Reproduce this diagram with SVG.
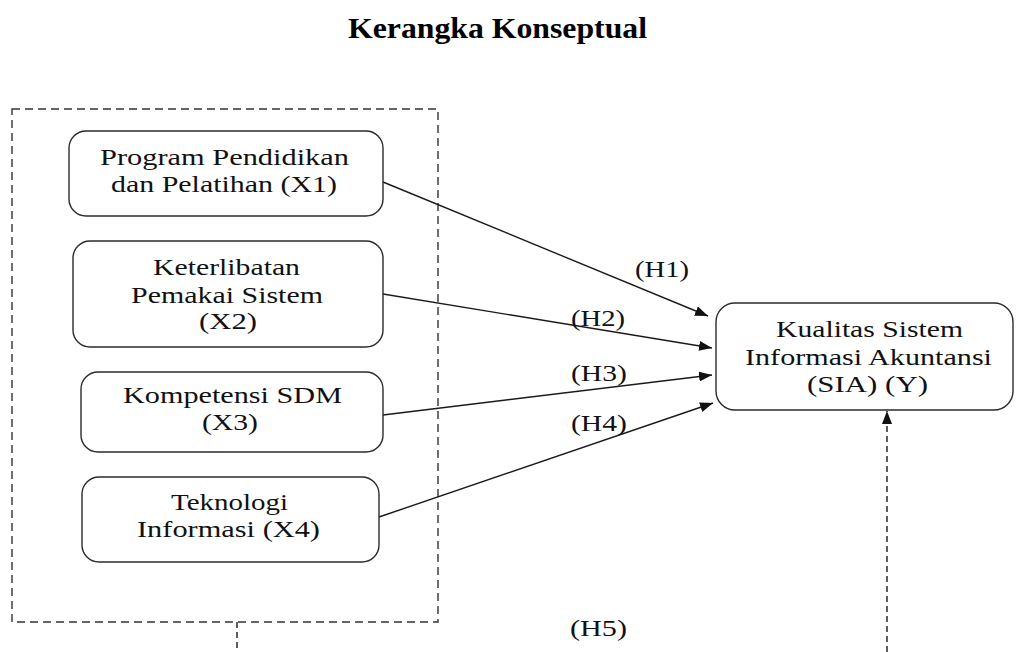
<svg xmlns="http://www.w3.org/2000/svg" width="1017" height="652" viewBox="0 0 1017 652">
<style>
  .bg { fill: #ffffff; }
  .node rect { fill: #ffffff; stroke: #2b2b2b; stroke-width: 1.4; }
  .t { font-family: "Liberation Serif", "Times New Roman", serif; font-size: 23px; fill: #111111; }
  .title { font-family: "Liberation Serif", "Times New Roman", serif; font-size: 30px; font-weight: bold; fill: #000000; }
  .group { fill: none; stroke: #333333; stroke-width: 1.4; stroke-dasharray: 8 5; }
  .conn { fill: none; stroke: #1a1a1a; stroke-width: 1.4; }
  .dash { fill: none; stroke: #1a1a1a; stroke-width: 1.4; stroke-dasharray: 6 4; }
</style>
<defs>
  <marker id="arrow" markerUnits="userSpaceOnUse" markerWidth="13" markerHeight="10" refX="13" refY="5" orient="auto">
    <path d="M0,0 L13,5 L0,10 z" fill="#111111"/>
  </marker>
</defs>
<rect class="bg" x="0" y="0" width="1017" height="652"/>

<text class="title" x="348" y="38" textLength="299" lengthAdjust="spacingAndGlyphs">Kerangka Konseptual</text>

<g id="group-x">
  <rect class="group" x="12" y="109" width="426" height="513"/>
</g>

<g id="connectors">
  <line class="conn" x1="383" y1="182" x2="708" y2="316" marker-end="url(#arrow)"/>
  <line class="conn" x1="383" y1="294" x2="712" y2="348" marker-end="url(#arrow)"/>
  <line class="conn" x1="383" y1="415" x2="712" y2="375" marker-end="url(#arrow)"/>
  <line class="conn" x1="379" y1="517" x2="713" y2="403" marker-end="url(#arrow)"/>
  <path class="dash" d="M237,622 L237,652"/>
  <path class="dash" d="M887,652 L887,411" marker-end="url(#arrow)"/>
  <text class="t" x="635" y="277" textLength="54" lengthAdjust="spacingAndGlyphs">(H1)</text>
  <text class="t" x="571" y="326" textLength="54" lengthAdjust="spacingAndGlyphs">(H2)</text>
  <text class="t" x="571" y="381" textLength="56" lengthAdjust="spacingAndGlyphs">(H3)</text>
  <text class="t" x="571" y="431" textLength="56" lengthAdjust="spacingAndGlyphs">(H4)</text>
  <text class="t" x="570" y="636" textLength="57" lengthAdjust="spacingAndGlyphs">(H5)</text>
</g>

<g id="x1" class="node">
  <rect x="69" y="131" width="314" height="85" rx="17"/>
  <text class="t" x="100" y="165" textLength="249" lengthAdjust="spacingAndGlyphs">Program Pendidikan</text>
  <text class="t" x="111" y="192" textLength="226" lengthAdjust="spacingAndGlyphs">dan Pelatihan (X1)</text>
</g>

<g id="x2" class="node">
  <rect x="73" y="241" width="310" height="106" rx="17"/>
  <text class="t" x="153" y="275" textLength="147" lengthAdjust="spacingAndGlyphs">Keterlibatan</text>
  <text class="t" x="131" y="303" textLength="192" lengthAdjust="spacingAndGlyphs">Pemakai Sistem</text>
  <text class="t" x="199" y="329" textLength="58" lengthAdjust="spacingAndGlyphs">(X2)</text>
</g>

<g id="x3" class="node">
  <rect x="81" y="372" width="302" height="80" rx="17"/>
  <text class="t" x="123" y="403" textLength="219" lengthAdjust="spacingAndGlyphs">Kompetensi SDM</text>
  <text class="t" x="202" y="430" textLength="56" lengthAdjust="spacingAndGlyphs">(X3)</text>
</g>

<g id="x4" class="node">
  <rect x="82" y="477" width="297" height="85" rx="17"/>
  <text class="t" x="171" y="510" textLength="117" lengthAdjust="spacingAndGlyphs">Teknologi</text>
  <text class="t" x="137" y="537" textLength="183" lengthAdjust="spacingAndGlyphs">Informasi (X4)</text>
</g>

<g id="y" class="node">
  <rect x="716" y="303" width="297" height="107" rx="19"/>
  <text class="t" x="776" y="337" textLength="187" lengthAdjust="spacingAndGlyphs">Kualitas Sistem</text>
  <text class="t" x="745" y="365" textLength="247" lengthAdjust="spacingAndGlyphs">Informasi Akuntansi</text>
  <text class="t" x="807" y="392" textLength="121" lengthAdjust="spacingAndGlyphs">(SIA) (Y)</text>
</g>
</svg>
